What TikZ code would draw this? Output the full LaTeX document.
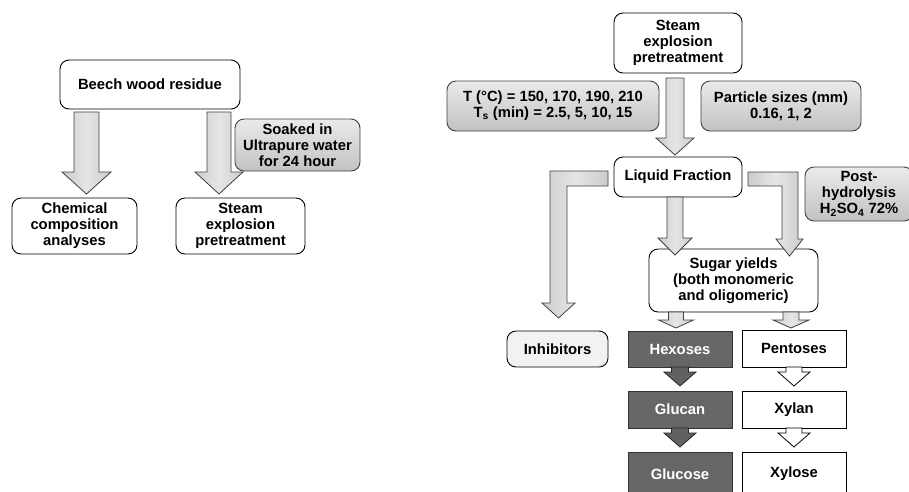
\documentclass[tikz,border=0pt]{standalone}
\usepackage{fontspec}
\setmainfont{Liberation Sans}
\usetikzlibrary{calc}
\tikzset{
 base/.style={font=\fontsize{14.8}{16}\selectfont\bfseries, align=center, inner sep=0pt, line width=0.9pt},
 wbox/.style={base, draw=black, fill=white, rounded corners=9pt},
 gbox/.style={base, draw=black!75, top color=black!8, bottom color=black!24, rounded corners=9pt},
 ibox/.style={base, draw=black, fill=black!5, rounded corners=9pt},
 dbox/.style={base, draw=black!80, fill=black!60, text=white},
 sbox/.style={base, draw=black, fill=white},
 garrow/.style={draw=black!75, left color=black!20, right color=black!20, middle color=black!10, line width=0.8pt, line join=miter},
 darrow/.style={draw=black!85, fill=black!62, line width=0.8pt},
 warrow/.style={draw=black, fill=white, line width=0.8pt},
}
\newcommand{\blkarrow}[6]{\path[#1] let \p1=(#2), \p2=(#3) in (\x2-#4,\y1) -- (\x2+#4,\y1) -- (\x2+#4,\y2+#6) -- (\x2+#5,\y2+#6) -- (\x2,\y2) -- (\x2-#5,\y2+#6) -- (\x2-#4,\y2+#6) -- cycle;}
\begin{document}
\begin{tikzpicture}[x=1pt,y=-1pt]
\useasboundingbox (0,0) rectangle (909,491);
\clip (0,0) rectangle (909,491);
% ---------- left part ----------
\node[wbox, minimum width=180pt, minimum height=49pt] (bw) at (150,84.5) {Beech wood residue};
\node[gbox, minimum width=125pt, minimum height=52pt] (soak) at (297.5,145) {Soaked in\\Ultrapure water\\for 24 hour};
\node[wbox, minimum width=125pt, minimum height=56pt] (chem) at (74.5,226) {Chemical\\composition\\analyses};
\node[wbox, minimum width=129pt, minimum height=56pt] (steamL) at (240.5,226) {Steam\\explosion\\pretreatment};
\coordinate (a1s) at (86.5,112); \coordinate (a1t) at (86.5,194);
\coordinate (a2s) at (219,112); \coordinate (a2t) at (219,194);
\blkarrow{garrow}{a1s}{a1t}{12.5pt}{24.5pt}{22pt}
\blkarrow{garrow}{a2s}{a2t}{12pt}{24pt}{22pt}
% ---------- right part ----------
\node[wbox, minimum width=128pt, minimum height=60pt] (steamT) at (678,43) {Steam\\explosion\\pretreatment};
\node[gbox, minimum width=212pt, minimum height=50pt] (temp) at (553,106) {T (°C) = 150, 170, 190, 210\\T\textsubscript{s} (min) = 2.5, 5, 10, 15};
\node[gbox, minimum width=160pt, minimum height=50pt] (part) at (781,106) {Particle sizes (mm)\\0.16, 1, 2};
\node[wbox, minimum width=128pt, minimum height=40pt] (liq) at (678,177) {Liquid Fraction};
\node[gbox, minimum width=108pt, minimum height=54pt] (post) at (859,194) {Post-\\hydrolysis\\H\textsubscript{2}SO\textsubscript{4} 72\%};
\node[wbox, minimum width=169pt, minimum height=63pt] (sugar) at (733.5,280.5) {Sugar yields\\(both monomeric\\and oligomeric)};
\node[ibox, minimum width=101pt, minimum height=36pt] (inhib) at (557.5,349) {Inhibitors};
\node[dbox, minimum width=104pt, minimum height=36pt] (hex) at (680,349) {Hexoses};
\node[dbox, minimum width=104pt, minimum height=37pt] (glucan) at (680,409.5) {Glucan};
\node[dbox, minimum width=104pt, minimum height=44pt] (glucose) at (680,474) {Glucose};
\node[sbox, minimum width=104pt, minimum height=37pt] (pent) at (794,348.5) {Pentoses};
\node[sbox, minimum width=104pt, minimum height=37pt] (xylan) at (794,409.5) {Xylan};
\node[sbox, minimum width=104pt, minimum height=44pt] (xylose) at (794,474) {Xylose};
% big arrow
\coordinate (b1s) at (675,78); \coordinate (b1t) at (675,155);
\blkarrow{garrow}{b1s}{b1t}{9pt}{19pt}{17pt}
% liquid -> sugar
\coordinate (b2s) at (675,197); \coordinate (b2t) at (675,255);
\blkarrow{garrow}{b2s}{b2t}{8pt}{17pt}{17pt}
% bent arrows
\path[garrow] (608,171) -- (550,171) -- (550,303) -- (542,303) -- (558.5,318) -- (575,303) -- (567,303) -- (567,186) -- (608,186) -- cycle;
\path[garrow] (748,172) -- (798,172) -- (798,239) -- (803,239) -- (789.5,256) -- (776,239) -- (782,239) -- (782,186) -- (748,186) -- cycle;
% sugar -> hexoses / pentoses
\coordinate (c1s) at (676,312); \coordinate (c1t) at (676,328);
\coordinate (c2s) at (791,312); \coordinate (c2t) at (791,328);
\blkarrow{garrow}{c1s}{c1t}{7.5pt}{17.5pt}{8pt}
\blkarrow{garrow}{c2s}{c2t}{8pt}{18pt}{8pt}
% dark arrows
\coordinate (d1s) at (680,367); \coordinate (d1t) at (680,386);
\coordinate (d2s) at (680,428); \coordinate (d2t) at (680,447);
\blkarrow{darrow}{d1s}{d1t}{8.5pt}{16pt}{14pt}
\blkarrow{darrow}{d2s}{d2t}{8.5pt}{16pt}{14pt}
% white arrows
\coordinate (e1s) at (794,367); \coordinate (e1t) at (794,386);
\coordinate (e2s) at (794,428); \coordinate (e2t) at (794,447);
\blkarrow{warrow}{e1s}{e1t}{8pt}{16pt}{14pt}
\blkarrow{warrow}{e2s}{e2t}{8pt}{16pt}{14pt}
\end{tikzpicture}
\end{document}
